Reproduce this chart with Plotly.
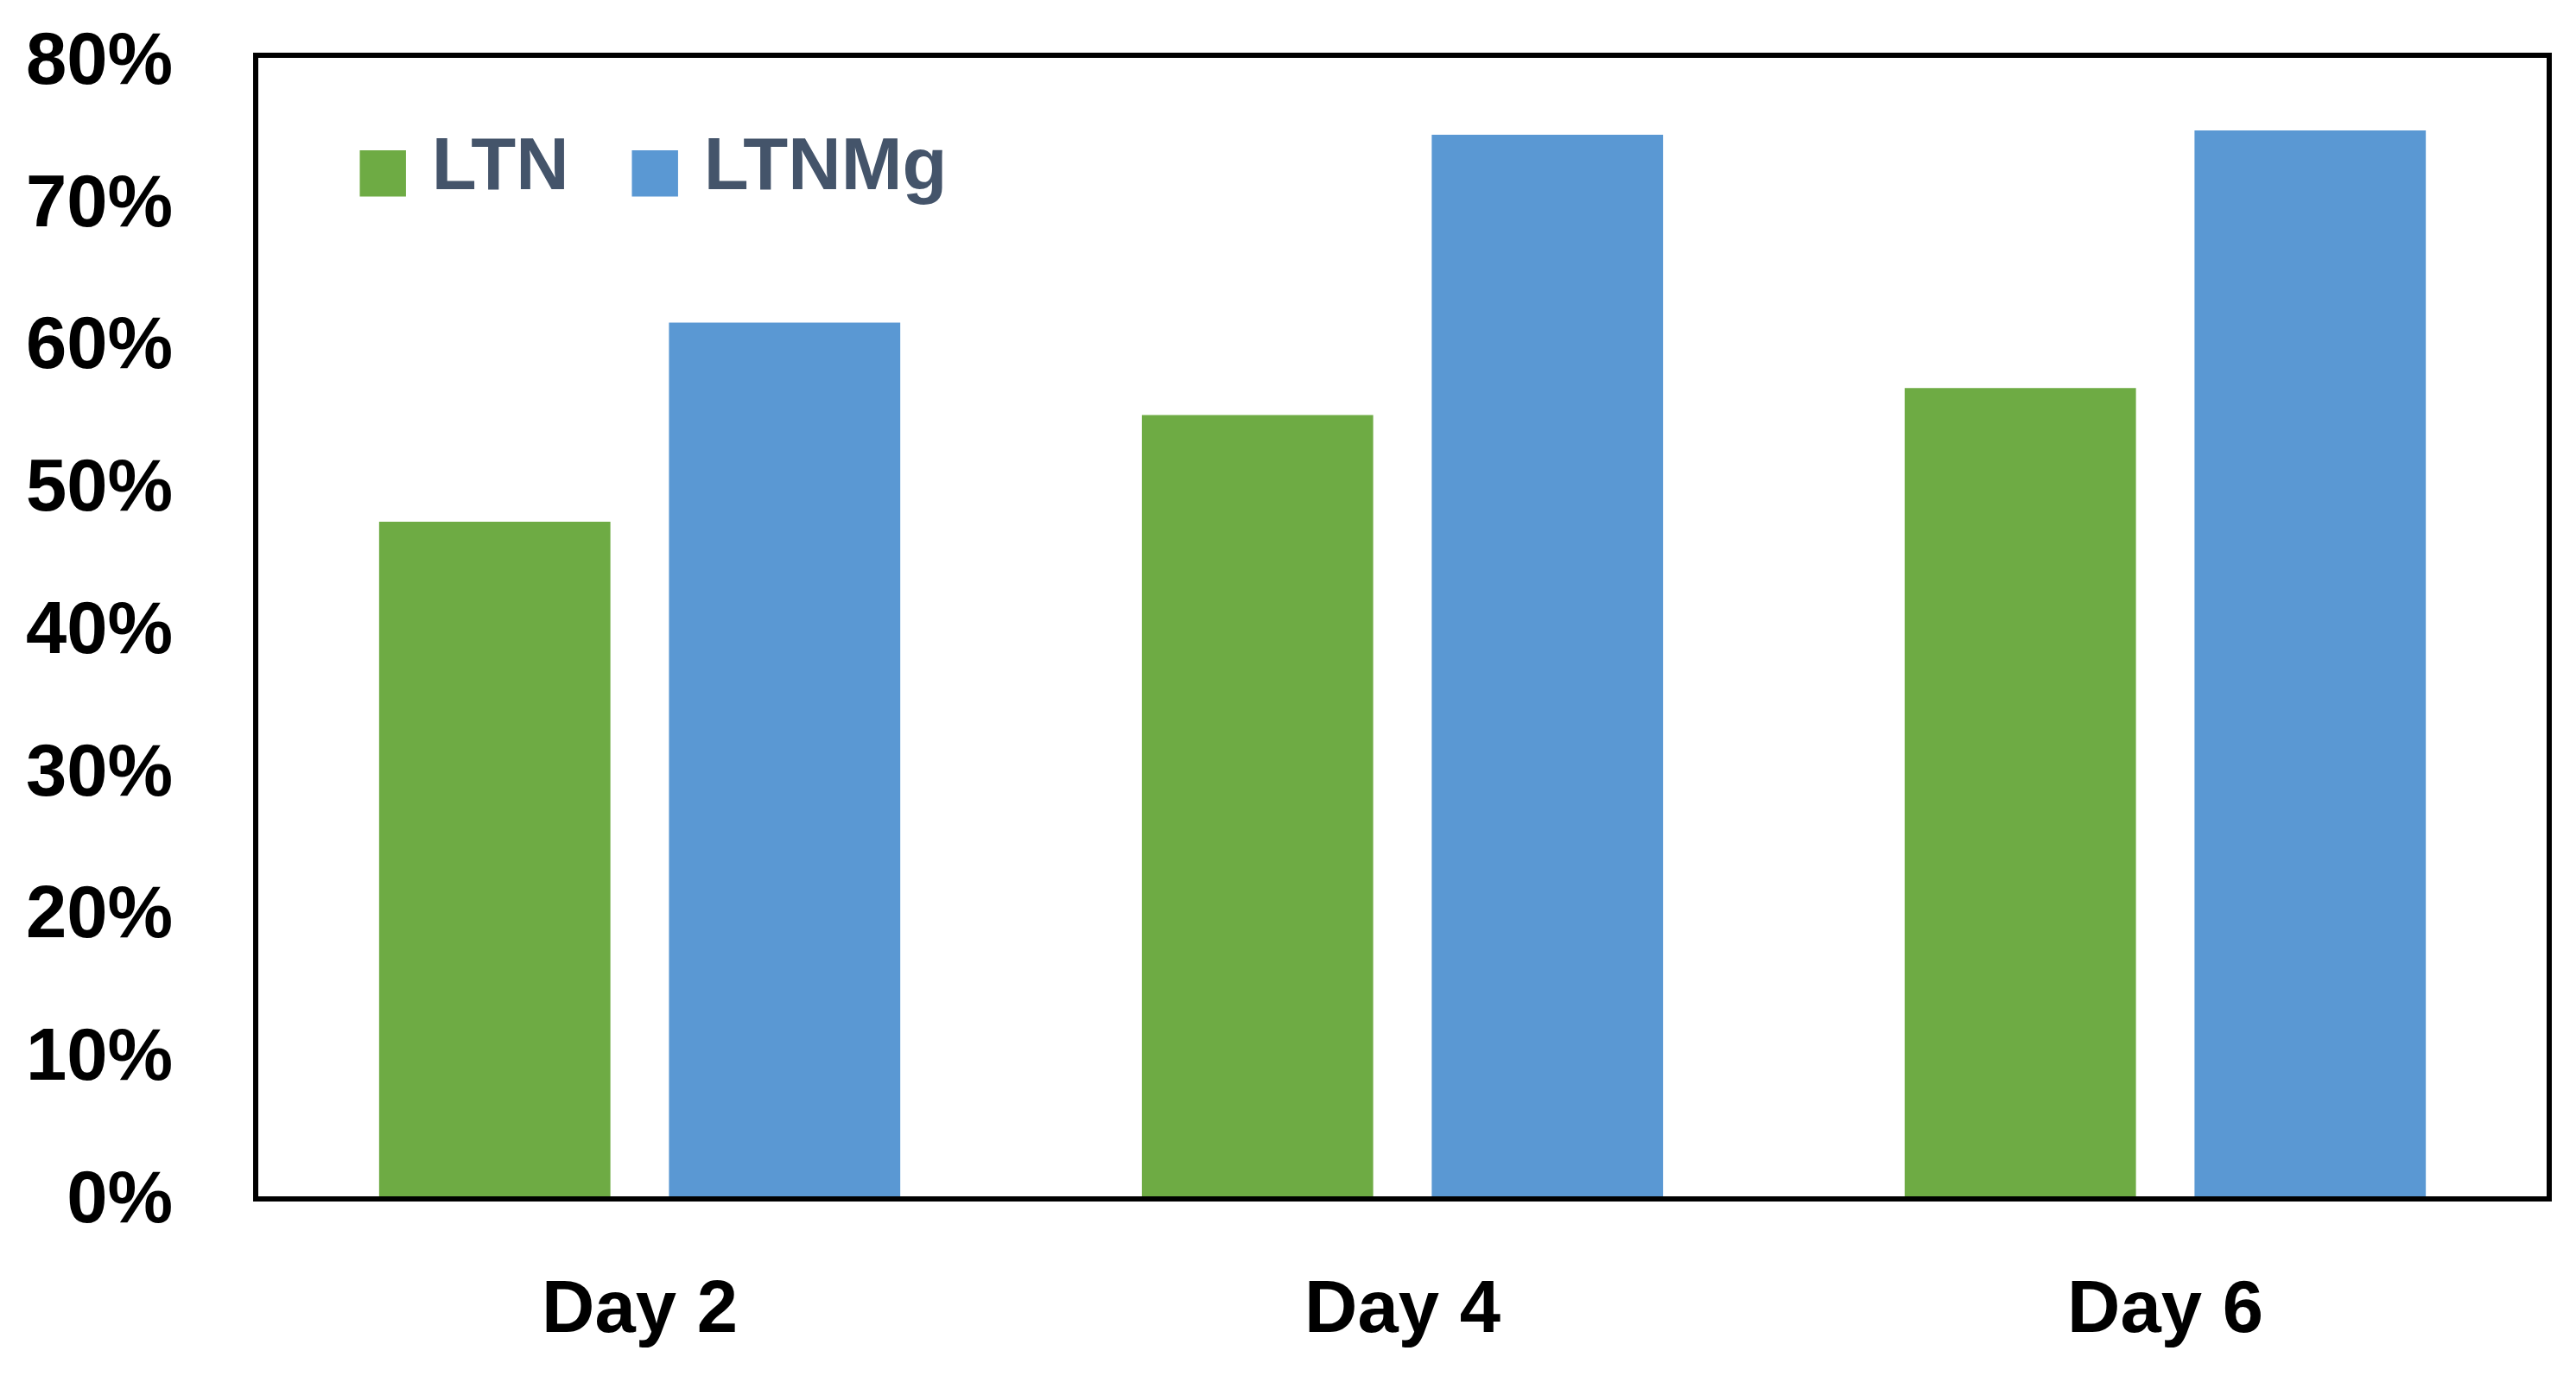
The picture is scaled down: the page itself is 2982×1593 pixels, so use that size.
import plotly.graph_objects as go

categories = ["Day 2", "Day 4", "Day 6"]
ltn = [0.474, 0.549, 0.568]
ltnmg = [0.614, 0.746, 0.749]
series_names = ["LTN", "LTNMg"]
colors = ["#6eab44", "#5a98d3"]
tick_vals = [0, 0.1, 0.2, 0.3, 0.4, 0.5, 0.6, 0.7, 0.8]

fig = go.Figure()
fig.add_trace(go.Bar(x=categories, y=ltn, name=series_names[0],
                     marker=dict(color=colors[0], line=dict(width=0)), showlegend=False))
fig.add_trace(go.Bar(x=categories, y=ltnmg, name=series_names[1],
                     marker=dict(color=colors[1], line=dict(width=0)), showlegend=False))

font_fam = "Liberation Sans, Arial, sans-serif"
for nm, c, xp in zip(series_names, colors, [0.041, 0.160]):
    fig.add_annotation(
        xref="paper", yref="paper", x=xp, y=0.907, xanchor="left", yanchor="middle",
        text=f'<span style="color:{c};font-family:DejaVu Sans;font-size:70px">■</span> {nm}',
        showarrow=False, font=dict(family=font_fam, size=85, color="#44546a", weight="bold"))

fig.update_layout(
    width=2974, height=1585,
    margin=dict(l=291, r=34, t=55, b=208),
    paper_bgcolor="white", plot_bgcolor="white",
    barmode="group", bargap=0.24, bargroupgap=0.202,
    font=dict(family=font_fam, size=85, color="black", weight="bold"),
)
fig.update_xaxes(showline=True, linewidth=6, linecolor="black", mirror=True,
                 showgrid=False, ticks="", ticklabelstandoff=49,
                 tickfont=dict(size=85, family=font_fam, color="black", weight="bold"))
fig.update_yaxes(range=[0, 0.8], tickvals=tick_vals, tickformat=".0%",
                 showline=True, linewidth=6, linecolor="black", mirror=True,
                 showgrid=False, zeroline=False, ticks="", ticklabelstandoff=76,
                 tickfont=dict(size=85, family=font_fam, color="black", weight="bold"))

fig.write_html("out.html")
